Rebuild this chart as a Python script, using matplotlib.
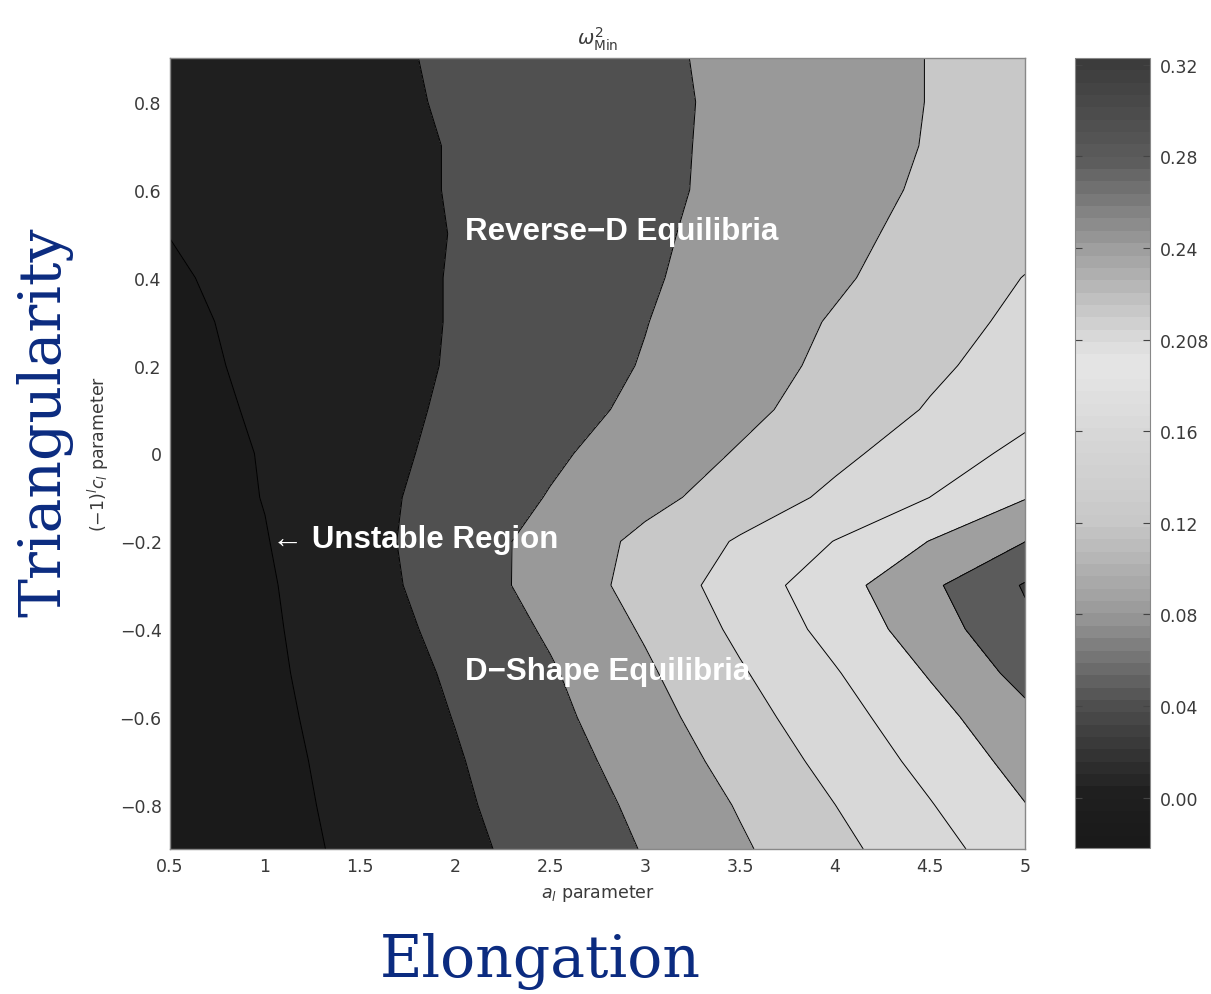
import numpy as np
import matplotlib
matplotlib.use('Agg')
import matplotlib.pyplot as plt
from matplotlib.colors import LinearSegmentedColormap, Normalize
from matplotlib.cm import ScalarMappable

# ---------------- data ----------------
a_param = [0.5, 1.0, 1.5, 2.0, 2.5, 3.0, 3.5, 4.0, 4.5, 5.0]
c_param_top_to_bottom = [0.9, 0.8, 0.7, 0.6, 0.5, 0.4, 0.3, 0.2, 0.1, 0.0,
                         -0.1, -0.2, -0.3, -0.4, -0.5, -0.6, -0.7, -0.8, -0.9]
# omega^2_Min, one row per c value (top to bottom), one column per a value
omega2_rows = [
    [0.006, 0.019, 0.032, 0.045, 0.059, 0.073, 0.088, 0.104, 0.121, 0.137],
    [0.004, 0.017, 0.030, 0.044, 0.058, 0.072, 0.087, 0.104, 0.121, 0.137],
    [0.003, 0.014, 0.028, 0.042, 0.057, 0.072, 0.088, 0.105, 0.122, 0.140],
    [0.002, 0.015, 0.028, 0.042, 0.057, 0.072, 0.089, 0.107, 0.125, 0.143],
    [0.0005, 0.014, 0.028, 0.041, 0.058, 0.074, 0.092, 0.111, 0.130, 0.148],
    [-0.004, 0.011, 0.026, 0.042, 0.059, 0.076, 0.095, 0.115, 0.137, 0.161],
    [-0.008, 0.009, 0.026, 0.042, 0.061, 0.079, 0.101, 0.123, 0.146, 0.168],
    [-0.010, 0.007, 0.025, 0.043, 0.063, 0.082, 0.105, 0.128, 0.153, 0.177],
    [-0.014, 0.005, 0.025, 0.046, 0.066, 0.088, 0.111, 0.136, 0.163, 0.189],
    [-0.016, 0.002, 0.026, 0.050, 0.074, 0.098, 0.123, 0.151, 0.180, 0.210],
    [-0.017, 0.001, 0.028, 0.055, 0.082, 0.109, 0.137, 0.168, 0.2002, 0.238],
    [-0.018, -0.0015, 0.028, 0.059, 0.094, 0.129, 0.164, 0.201, 0.241, 0.2795],
    [-0.020, -0.004, 0.025, 0.058, 0.095, 0.134, 0.178, 0.224, 0.273, 0.323],
    [-0.020, -0.0055, 0.022, 0.051, 0.085, 0.124, 0.168, 0.213, 0.261, 0.312],
    [-0.020, -0.007, 0.019, 0.045, 0.076, 0.114, 0.156, 0.197, 0.243, 0.293],
    [-0.021, -0.009, 0.016, 0.041, 0.070, 0.105, 0.145, 0.184, 0.226, 0.270],
    [-0.021, -0.011, 0.013, 0.037, 0.064, 0.096, 0.134, 0.172, 0.212, 0.254],
    [-0.022, -0.013, 0.011, 0.034, 0.059, 0.088, 0.123, 0.1598, 0.198, 0.239],
    [-0.022, -0.014, 0.008, 0.030, 0.055, 0.082, 0.115, 0.149, 0.186, 0.223],
]
contour_levels = [0.00, 0.04, 0.08, 0.12, 0.16, 0.20, 0.24, 0.28, 0.32]
x_ticks = [0.5, 1, 1.5, 2, 2.5, 3, 3.5, 4, 4.5, 5]
x_tick_labels = ['0.5', '1', '1.5', '2', '2.5', '3', '3.5', '4', '4.5', '5']
y_ticks = [-0.8, -0.6, -0.4, -0.2, 0, 0.2, 0.4, 0.6, 0.8]
y_tick_labels = ['\u22120.8', '\u22120.6', '\u22120.4', '\u22120.2', '0',
                 '0.2', '0.4', '0.6', '0.8']
cbar_ticks = [0.00, 0.04, 0.08, 0.12, 0.16, 0.20, 0.24, 0.28, 0.32]
cbar_tick_labels = ['0.00', '0.04', '0.08', '0.12', '0.16', '0.208',
                    '0.24', '0.28', '0.32']

# ---------------- style ----------------
# V-shaped gray colormap (value -> gray level) as seen on the colorbar
cmap_anchor_vals = [-0.022, 0.0, 0.04, 0.08, 0.12, 0.16, 0.19, 0.20, 0.24, 0.28, 0.323]
cmap_anchor_gray = [0x1a, 0x1f, 0x50, 0x9a, 0xc8, 0xd8, 0xe6, 0xdc, 0xa0, 0x5c, 0x3c]

X = np.array(a_param)
Y = np.array(c_param_top_to_bottom)[::-1]
Z = np.array(omega2_rows)[::-1, :]
zmin, zmax = Z.min(), Z.max()

norm = Normalize(vmin=zmin, vmax=zmax)
pos = [(v - zmin) / (zmax - zmin) for v in cmap_anchor_vals]
pos[0], pos[-1] = 0.0, 1.0
cols = [(g / 255.0,) * 3 for g in cmap_anchor_gray]
cmap_fine = LinearSegmentedColormap.from_list('vgray', list(zip(pos, cols)), N=256)
cmap_bar = LinearSegmentedColormap.from_list('vgray64', list(zip(pos, cols)), N=64)

fig = plt.figure(figsize=(12.11, 9.95), dpi=100)
ax = fig.add_axes([170 / 1211, 1 - 850 / 995, 855 / 1211, 791 / 995])

fill_levels = [zmin - 1e-6] + contour_levels + [zmax + 1e-6]
band_colors = [cmap_fine(norm(v)) for v in [zmin] + contour_levels]
ax.contourf(X, Y, Z, levels=fill_levels, colors=band_colors)
ax.contour(X, Y, Z, levels=contour_levels, colors='black', linewidths=0.7)

ax.set_xlim(0.5, 5)
ax.set_ylim(-0.9, 0.9)
tick_font = dict(family=['DejaVu Sans'])
ax.set_xticks(x_ticks)
ax.set_xticklabels(x_tick_labels, fontsize=12.5, color='#3a3a3a', **tick_font)
ax.set_yticks(y_ticks)
ax.set_yticklabels(y_tick_labels, fontsize=12.5, color='#3a3a3a', **tick_font)
ax.tick_params(direction='in', length=0, pad=6)
for s in ax.spines.values():
    s.set_color('#888888')
    s.set_linewidth(1.0)

ax.set_xlabel(r'$a_l$ parameter', fontsize=12.5, color='#3a3a3a', labelpad=5, **tick_font)
ax.set_ylabel(r'$(-1)^l c_l$ parameter', fontsize=12.5, color='#3a3a3a', labelpad=6, **tick_font)
ax.set_title(r'$\omega^2_{\rm Min}$', fontsize=14, color='#3a3a3a', pad=10)

ann_font = dict(family=['Liberation Sans', 'DejaVu Sans'],
                color='white', fontweight='bold', fontsize=22.5, va='center', ha='left')
ax.text(2.053, 0.506, 'Reverse\u2212D Equilibria', **ann_font)
ax.text(1.037, -0.195, '\u2190 Unstable Region', **ann_font)
ax.text(2.053, -0.495, 'D\u2212Shape Equilibria', **ann_font)

# colorbar
cax = fig.add_axes([1075 / 1211, 1 - 849 / 995, 75 / 1211, 790 / 995])
cb = fig.colorbar(ScalarMappable(norm=norm, cmap=cmap_bar), cax=cax)
cb.set_ticks(cbar_ticks)
cb.set_ticklabels(cbar_tick_labels)
cax.tick_params(axis='y', direction='in', left=True, right=True, length=5,
                color='#444444', labelsize=12.5, labelcolor='#3a3a3a', pad=7)
for lbl in cax.get_yticklabels():
    lbl.set_family(['DejaVu Sans'])
cb.outline.set_edgecolor('#888888')

# big presentation labels
big_font = dict(family=['DejaVu Serif'], color='#0b2b80', fontsize=42)
fig.text(540 / 1211, 1 - 962 / 995, 'Elongation', ha='center', va='center', **big_font)
fig.text(45 / 1211, 1 - 422 / 995, 'Triangularity', ha='center', va='center',
         rotation=90, **big_font)

fig.savefig('out.png', dpi=100)
